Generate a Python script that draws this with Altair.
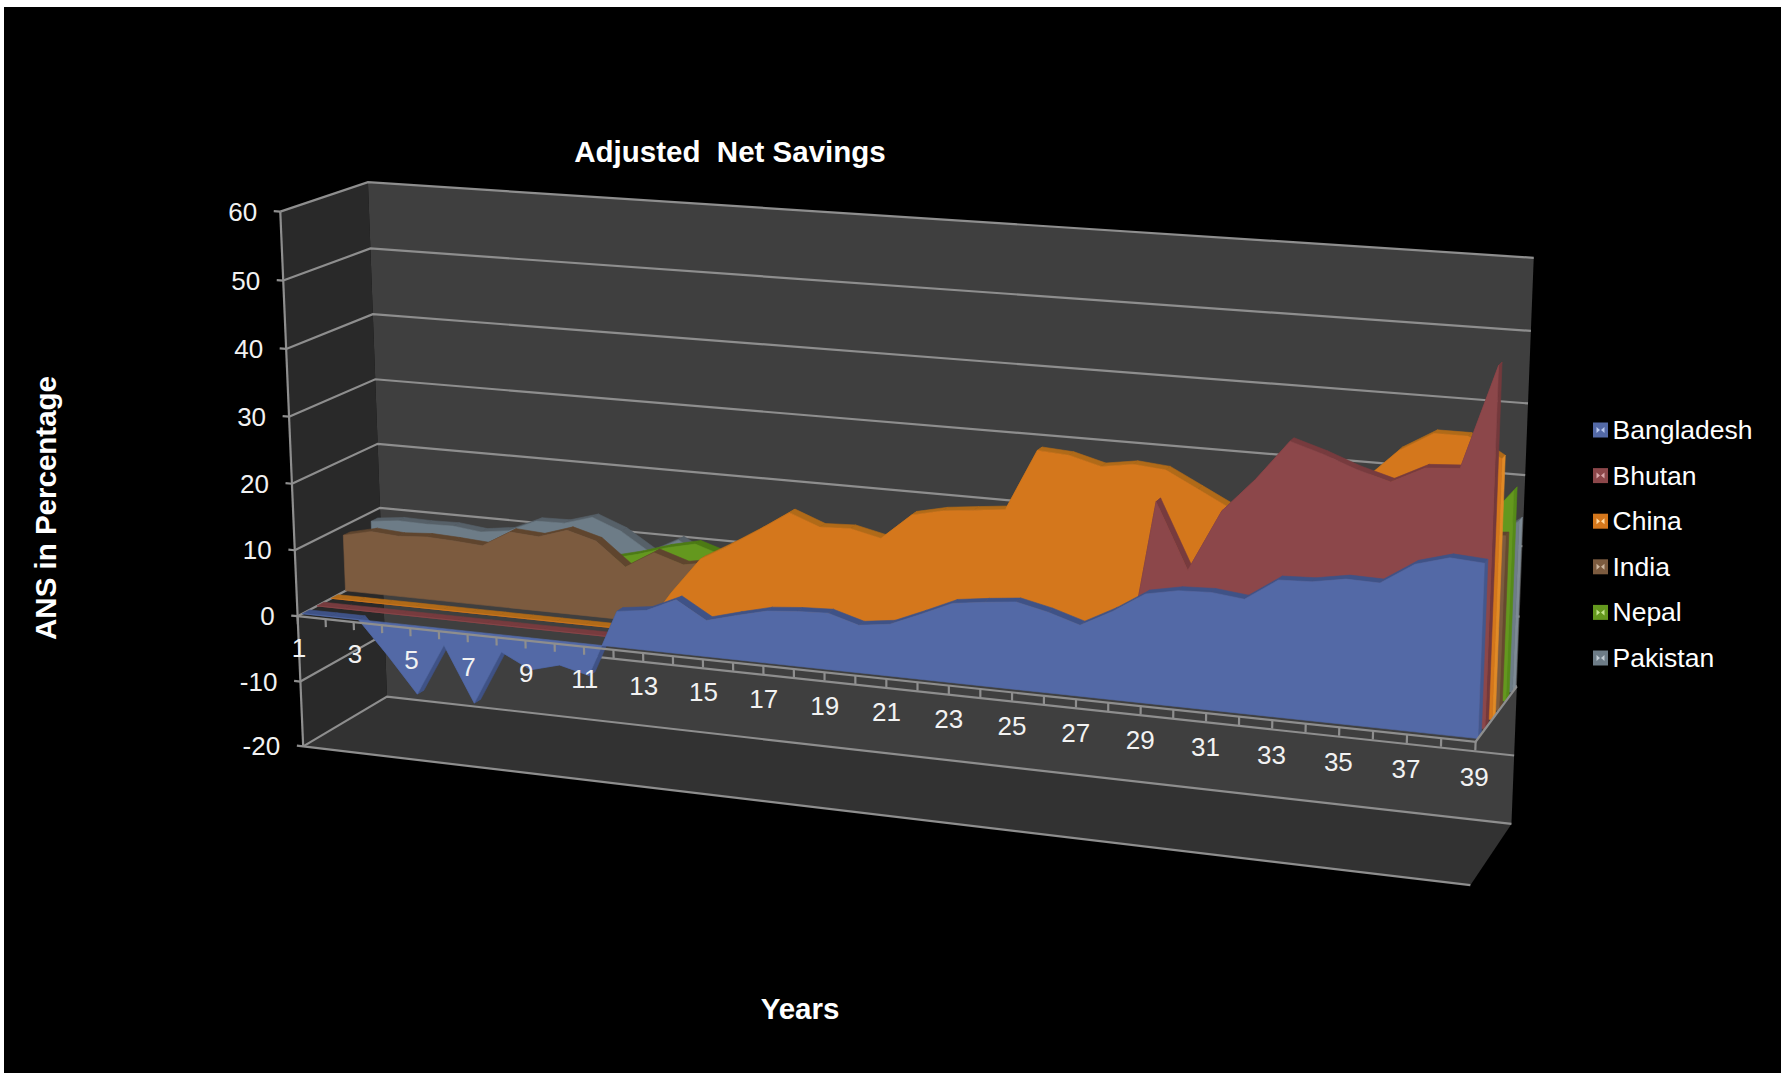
import altair as alt
import numpy as np

# Adjusted net savings by country, percent, for years 1..39
YEARS = list(range(1, 40))
COUNTRIES = ["Bangladesh", "Bhutan", "China", "India", "Nepal", "Pakistan"]
bangladesh = [0, 0, 0, -5, -10.4, -2.5, -10.8, -2.6, -4.8, -3.6, -4.7, 5.3, 5.9, 7.9, 5.3, 6.5, 7.6, 8.0, 8.2, 6.9,
              7.5, 9.4, 11.4, 12.0, 12.5, 11.5, 10.1, 12.5, 15.4, 16.3, 16.5, 16.0, 19.1, 19.3, 20.1, 20.0, 23, 24.3, 24]
bhutan = [0] * 28 + [27.2, 18, 26.7, 31.5, 37.1, 35.7, 34, 32.7, 35, 35.3, 49.5]
china = [0] * 12 + [6.2, 11.6, 14.1, 16.8, 19.7, 18, 18.2, 17.2, 21, 22, 22.5, 23, 31.8, 31.5, 30.3, 31, 30.6, 28.3,
                    26, 25, 25, 27, 31.6, 36, 38.7, 38.7, 36]
india = [8.6, 9.6, 9.3, 9.6, 9.4, 9.1, 11.6, 11.3, 12.7, 11.5, 8, 10.6, 9.2, 10, 11, 12, 13, 14, 13, 13,
         14, 15, 16, 17, 18, 18, 17, 18, 19, 20, 20, 20, 22, 23, 23, 23, 24, 24, 24.4]
nepal = [6.5, 7, 7, 7, 7, 6.5, 7.5, 7.5, 8, 7.7, 8.8, 10.2, 11.2, 9.8, 9.5, 10, 11, 11, 11, 11,
         12, 13, 13, 14, 16, 17, 17, 17, 17, 18, 18, 19, 19, 20, 20, 21, 22, 24, 29.6]
pakistan = [8.6, 9.1, 9, 9.1, 8.6, 9.2, 11.1, 11.2, 12.5, 10.8, 8.0, 10.3, 7.9, 8, 9, 9, 10, 10, 10, 10,
            11, 12, 12, 13, 14, 14, 15, 15, 15, 16, 16, 17, 17, 18, 18, 19, 20, 21, 24.3]
SERIES = [bangladesh, bhutan, china, india, nepal, pakistan]
VALUE_TICKS = [-20, -10, 0, 10, 20, 30, 40, 50, 60]

# Per-country face, top-surface and end-cap colours
FACE = ["#5369a6", "#8c474a", "#d4771c", "#7c5b3f", "#64981e", "#6d7c87"]
TOP = ["#3f5286", "#773b3e", "#b06a18", "#5f452e", "#4c7a14", "#566068"]
CAP = ["#44578c", "#73393c", "#e08a26", "#66492f", "#558a18", "#7d8a94"]
GLEAM = ["#b9c8ee", "#d9a8ab", "#ffd9a0", "#cdb7a0", "#c4e58e", "#c2ccd4"]

# Camera for the 3-D box: (along years 0..1, value, depth 0..1) -> page pixels
BOX_POINTS = [(0, 60, 0), (0, -20, 0), (0, 0, 0), (0, 60, 1), (0, -20, 1),
              (1, 60, 1), (1, -20, 1), (1, -20, 0), (1, 0, 0), (1, 0, 1)]
PAGE_POINTS = [(280, 212), (303, 747), (298, 616), (368, 182), (387, 696),
               (1534, 258), (1512, 824), (1470, 886), (1476, 740), (1516, 687)]


def fit_camera(box, page):
    rows = []
    for (a, b, c), (px, py) in zip(box, page):
        rows.append([a, b, c, 1, 0, 0, 0, 0, -px * a, -px * b, -px * c, -px])
        rows.append([0, 0, 0, 0, a, b, c, 1, -py * a, -py * b, -py * c, -py])
    return np.linalg.svd(np.array(rows, float))[2][-1].reshape(3, 4)


CAMERA = fit_camera(BOX_POINTS, PAGE_POINTS)


def project(u, v, w):
    x, y, z = CAMERA @ np.array([u, v, w, 1.0])
    return [float(x / z), float(y / z)]


def polygon(points, fill):
    ring = list(points) + [points[0]]
    return {"type": "Feature", "properties": {"fill": fill},
            "geometry": {"type": "Polygon", "coordinates": [ring]}}


def segment(points):
    return {"type": "Feature", "properties": {},
            "geometry": {"type": "LineString", "coordinates": list(points)}}


def shapes(features):
    return alt.Data(values=features)


def year_pos(i):
    return i / (len(YEARS) - 1)


# White page margin around the black plate, then walls and floor
box = [
    polygon([[0, 0], [1787, 0], [1787, 7], [0, 7]], "#ffffff"),
    polygon([[0, 0], [4, 0], [4, 1073], [0, 1073]], "#ffffff"),
    polygon([[1781, 0], [1787, 0], [1787, 1073], [1781, 1073]], "#ffffff"),
    polygon([project(0, 60, 0), project(0, 60, 1), project(0, -20, 1), project(0, -20, 0)], "#292929"),
    polygon([project(0, 60, 1), project(1, 60, 1), project(1, -20, 1), project(0, -20, 1)], "#3f3f3f"),
    polygon([project(0, -20, 0), project(0, -20, 1), project(1, -20, 1), project(1, -20, 0)], "#323232"),
]

# Gridlines on the back and side walls, and the box edges
grid = []
for v in VALUE_TICKS:
    grid.append(segment([project(0, v, 0), project(0, v, 1), project(1, v, 1)]))
grid.append(segment([project(0, -20, 0), project(1, -20, 0)]))

# Each country is a slab: back to front, top surface, front face and right cap
WIDTH_FRONT, WIDTH_BACK = 0.055, 0.135
slabs = []
for s in range(len(SERIES) - 1, -1, -1):
    values = SERIES[s]
    wf = s / 6 + WIDTH_FRONT
    wb = s / 6 + WIDTH_BACK
    for i in range(len(values) - 1):
        slabs.append(polygon([project(year_pos(i), values[i], wf), project(year_pos(i + 1), values[i + 1], wf),
                              project(year_pos(i + 1), values[i + 1], wb), project(year_pos(i), values[i], wb)],
                             TOP[s]))
    slabs.append(polygon([project(1, values[-1], wf), project(1, values[-1], wb),
                          project(1, 0, wb), project(1, 0, wf)], CAP[s]))
    face = [project(year_pos(i), values[i], wf) for i in range(len(values))]
    face += [project(1, 0, wf), project(0, 0, wf)]
    slabs.append(polygon(face, FACE[s]))

# Axis lines and tick marks, drawn over the slabs
axes = [segment([project(0, 0, 0), project(1, 0, 0), project(1, 0, 1)]),
        segment([project(0, 60, 0), project(0, -20, 0)])]
for i in range(len(YEARS)):
    axes.append(segment([project(year_pos(i), 0, 0), project(year_pos(i), -1.2, 0)]))
for v in VALUE_TICKS:
    axes.append(segment([project(-0.006, v, 0), project(0, v, 0)]))

# Legend swatches with their small inner highlight; the legend supplies the labels
LEGEND_X = 1586
LEGEND_TOP = 430
LEGEND_STEP = 45.6
SWATCH_CENTER_X = 1600.5
SWATCH_HALF = 7.5
gleams = []
for s in range(len(COUNTRIES)):
    cx = SWATCH_CENTER_X
    cy = LEGEND_TOP + s * LEGEND_STEP
    gleams.append(polygon([[cx - SWATCH_HALF, cy - SWATCH_HALF], [cx + SWATCH_HALF, cy - SWATCH_HALF],
                           [cx + SWATCH_HALF, cy + SWATCH_HALF], [cx - SWATCH_HALF, cy + SWATCH_HALF]], FACE[s]))
    gleams.append(polygon([[cx - 4, cy - 3], [cx - 0.5, cy], [cx - 4, cy + 3]], GLEAM[s]))
    gleams.append(polygon([[cx + 4, cy - 3], [cx + 0.5, cy], [cx + 4, cy + 3]], GLEAM[s]))

# Text tables
year_labels = []
for i, year in enumerate(YEARS):
    if year % 2 == 1:
        px, py = project(year_pos(i), -5, 0)
        year_labels.append({"lon": px, "lat": py, "label": str(year)})
value_labels = []
for v in VALUE_TICKS:
    px, py = project(0, v, 0)
    value_labels.append({"lon": px - 23, "lat": py + 1, "label": str(v)})
headings = [
    {"lon": 730, "lat": 153, "label": "Adjusted\u00a0 Net Savings", "angle": 0},
    {"lon": 800, "lat": 1010, "label": "Years", "angle": 0},
    {"lon": 47, "lat": 508, "label": "ANS in Percentage", "angle": 270},
]
legend_rows = [{"country": c, "lon": LEGEND_X, "lat": LEGEND_TOP} for c in COUNTRIES]

FONT = "Liberation Sans"
LON = alt.Longitude("lon:Q")
LAT = alt.Latitude("lat:Q")
PAINT = alt.Color("properties.fill:N", scale=None, legend=None)


def filled(features, outline=0.6):
    return alt.Chart(shapes(features)).mark_geoshape(strokeWidth=outline).encode(
        color=PAINT, stroke=alt.Stroke("properties.fill:N", scale=None, legend=None))


def strokes(features, width):
    return alt.Chart(shapes(features)).mark_geoshape(filled=False, stroke="#8e8e8e", strokeWidth=width)


legend_layer = alt.Chart(alt.Data(values=legend_rows)).mark_point(filled=True, size=1, opacity=0).encode(
    longitude=LON, latitude=LAT,
    fill=alt.Fill("country:N", scale=alt.Scale(domain=COUNTRIES, range=FACE),
                  legend=alt.Legend(title=None, orient="none", legendX=LEGEND_X, legendY=LEGEND_TOP - 12,
                                    symbolType="square", symbolSize=196, symbolOpacity=0, symbolStrokeWidth=0,
                                    labelFontSize=26.5, labelFont=FONT, labelColor="#ffffff", labelLimit=300,
                                    labelOffset=0, rowPadding=18.5, clipHeight=26)))

year_text = alt.Chart(alt.Data(values=year_labels)).mark_text(
    font=FONT, fontSize=26, color="#f2f2f2", align="center", baseline="middle"
).encode(longitude=LON, latitude=LAT, text="label:N")
value_text = alt.Chart(alt.Data(values=value_labels)).mark_text(
    font=FONT, fontSize=26, color="#f2f2f2", align="right", baseline="middle"
).encode(longitude=LON, latitude=LAT, text="label:N")
heading_text = alt.Chart(alt.Data(values=headings[:2])).mark_text(
    font=FONT, fontSize=29.5, fontWeight="bold", color="#ffffff", align="center", baseline="middle"
).encode(longitude=LON, latitude=LAT, text="label:N")
side_text = alt.Chart(alt.Data(values=headings[2:])).mark_text(
    font=FONT, fontSize=29.5, fontWeight="bold", color="#ffffff", align="center", baseline="middle", angle=270
).encode(longitude=LON, latitude=LAT, text="label:N")

chart = alt.layer(
    filled(box, 0), strokes(grid, 2.2), filled(slabs), strokes(axes, 2.2), filled(gleams, 0),
    legend_layer, year_text, value_text, heading_text, side_text,
).properties(
    width=1787, height=1073, padding=0, autosize=alt.AutoSizeParams(type="none"), background="#000000",
    projection=alt.Projection(type="identity", scale=1, translate=[0, 0]),
).configure_view(stroke=None)

chart.save("out.html", embed_options={"renderer": "svg", "actions": False})
